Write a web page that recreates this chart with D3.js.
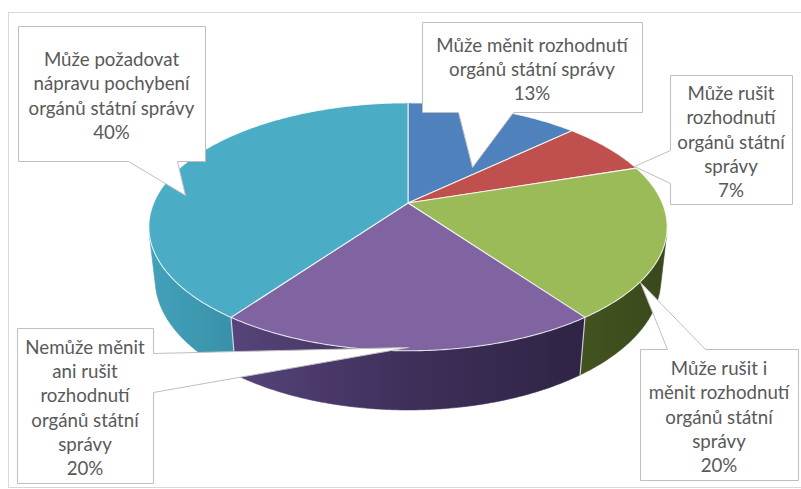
<!DOCTYPE html>
<html><head><meta charset="utf-8">
<script src="https://cdn.jsdelivr.net/npm/d3@7"></script>
<style>html,body{margin:0;padding:0;background:#fff;} svg{display:block;}</style>
</head><body>
<svg id="chart" width="801" height="489"></svg>
<script>
// ---- data ----
const categories = [
  "Může měnit rozhodnutí orgánů státní správy",
  "Může rušit rozhodnutí orgánů státní správy",
  "Může rušit i měnit rozhodnutí orgánů státní správy",
  "Nemůže měnit ani rušit rozhodnutí orgánů státní správy",
  "Může požadovat nápravu pochybení orgánů státní správy"
];
const shares = [13, 7, 20, 20, 40];
const percentLabels = ["13%", "7%", "20%", "20%", "40%"];

// ---- styles ----
const topColors = ["#4f81bd", "#c0504d", "#9bbb59", "#8064a2", "#4bacc6"];
const sideStops = [
  ["#3b6596", "#30588a"],
  ["#963d3a", "#86322f"],
  ["#42521f", "#3a491b"],
  ["#56447a", "#3e2f5a", "#2f2444"],
  ["#42a2ba", "#3990a8"]
];

// ---- 3D view ----
const view = {cx: 408, cy: 203, f: 1170, dist: 4.6, tilt: 28 * Math.PI / 180, depth: 0.235};
const cT = Math.cos(view.tilt), sT = Math.sin(view.tilt);
// world point on the disc: angle a (clockwise from back), radius r, height y (0 top, negative below)
function project(a, r, y) {
  const X = r * Math.sin(a), Z = r * Math.cos(a);
  const up = y * cT + Z * sT;
  const d = view.dist + Z * cT - y * sT;
  return [view.cx + view.f * X / d, view.cy - view.f * up / d];
}

// ---- callout layout ----
const callouts = [
  {box: [422, 22, 220, 90],  words: [3, 3],          wedge: ["bottom", 458, 513], tip: [39.8, 0.417]},
  {box: [670, 75, 122, 129], words: [2, 1, 2, 1],    wedge: ["left", 150, 183],   tip: [71, 1]},
  {box: [640, 349, 158, 131], words: [3, 2, 2, 1],   wedge: ["top", 667, 705],    tip: [125.9, 1]},
  {box: [17, 328, 136, 155], words: [2, 2, 1, 2, 1], wedge: ["right", 353, 392],  tip: [180, 0.979]},
  {box: [18, 26, 187, 135],  words: [2, 2, 3],       wedge: ["bottom", 128, 177], tip: [274.4, 0.891]}
];

const svg = d3.select("#chart");
const defs = svg.append("defs");

// chart area frame
svg.append("rect").attr("x", 8.5).attr("y", 12.5).attr("width", 810).attr("height", 475)
  .attr("fill", "#fff").attr("stroke", "#d9d9d9").attr("stroke-width", 1);

const pie = d3.pie().sort(null).value(d => d).startAngle(0).endAngle(2 * Math.PI);
const arcs = pie(shares);

const step = Math.PI / 360;
function arcPoints(a0, a1, r, y) {
  const n = Math.max(2, Math.ceil((a1 - a0) / step));
  return d3.range(n + 1).map(i => project(a0 + (a1 - a0) * i / n, r, y));
}

// visible range of the rim wall
const limit = Math.acos(-1 / (view.dist * cT));
const visA0 = limit, visA1 = 2 * Math.PI - limit;
const line = d3.line();

const gSide = svg.append("g");
arcs.forEach((d, i) => {
  const a0 = Math.max(d.startAngle, visA0), a1 = Math.min(d.endAngle, visA1);
  if (a1 <= a0) return;
  const top = arcPoints(a0, a1, 1, 0);
  const bot = arcPoints(a0, a1, 1, -view.depth).reverse();
  const pts = top.concat(bot);
  const xs = pts.map(p => p[0]);
  const gid = "side" + i;
  const grad = defs.append("linearGradient").attr("id", gid)
    .attr("gradientUnits", "userSpaceOnUse")
    .attr("x1", d3.min(xs)).attr("x2", d3.max(xs)).attr("y1", 0).attr("y2", 0);
  const stops = sideStops[i];
  stops.forEach((c, k) => grad.append("stop").attr("offset", k / (stops.length - 1)).attr("stop-color", c));
  gSide.append("path").attr("d", line(pts) + "Z").attr("fill", `url(#${gid})`)
    .attr("stroke", `url(#${gid})`).attr("stroke-width", 0.6);
});

// vertical edges where slices meet on the wall
arcs.forEach(d => {
  const a = d.startAngle;
  if (a > visA0 && a < visA1) {
    gSide.append("path").attr("d", line([project(a, 1, 0), project(a, 1, -view.depth)]))
      .attr("stroke", "#e8e4f0").attr("stroke-width", 1.2).attr("opacity", 0.85);
  }
});

// top faces
const gTop = svg.append("g");
arcs.forEach((d, i) => {
  const pts = [project(0, 0, 0)].concat(arcPoints(d.startAngle, d.endAngle, 1, 0));
  gTop.append("path").attr("d", line(pts) + "Z").attr("fill", topColors[i])
    .attr("stroke", "#ffffff").attr("stroke-width", 1.1).attr("stroke-opacity", 0.8)
    .attr("stroke-linejoin", "round");
});

// ---- callouts ----
const gCall = svg.append("g");
const lineGap = 24.3;
callouts.forEach((c, i) => {
  const [x0, y0, w, h] = c.box, x1 = x0 + w, y1 = y0 + h;
  const tip = project(c.tip[0] * Math.PI / 180, c.tip[1], 0);
  const [edge, a, b] = c.wedge;
  const pts = [[x0, y0]];
  if (edge === "top") pts.push([a, y0], tip, [b, y0]);
  pts.push([x1, y0]);
  if (edge === "right") pts.push([x1, a], tip, [x1, b]);
  pts.push([x1, y1]);
  if (edge === "bottom") pts.push([b, y1], tip, [a, y1]);
  pts.push([x0, y1]);
  if (edge === "left") pts.push([x0, b], tip, [x0, a]);
  gCall.append("path").attr("d", line(pts.map(p => [Math.round(p[0]) + 0.5, Math.round(p[1]) + 0.5])) + "Z")
    .attr("fill", "#fff").attr("stroke", "#bfbfbf").attr("stroke-width", 1);

  // split the category name into the callout's lines, then the share
  const words = categories[i].split(" ");
  const lines = [];
  let k = 0;
  c.words.forEach(n => { lines.push(words.slice(k, k + n).join(" ")); k += n; });
  lines.push(percentLabels[i]);
  const midY = y0 + h / 2 + 2.5;
  const firstY = midY - (lines.length - 1) * lineGap / 2;
  const t = gCall.append("text").attr("text-anchor", "middle")
    .attr("font-family", "Lato, 'Open Sans', sans-serif").attr("font-size", 18.7)
    .attr("fill", "#595959");
  lines.forEach((s, j) => {
    t.append("tspan").attr("x", x0 + w / 2).attr("y", firstY + j * lineGap).attr("dy", "0.35em").text(s);
  });
});
</script>
</body></html>
